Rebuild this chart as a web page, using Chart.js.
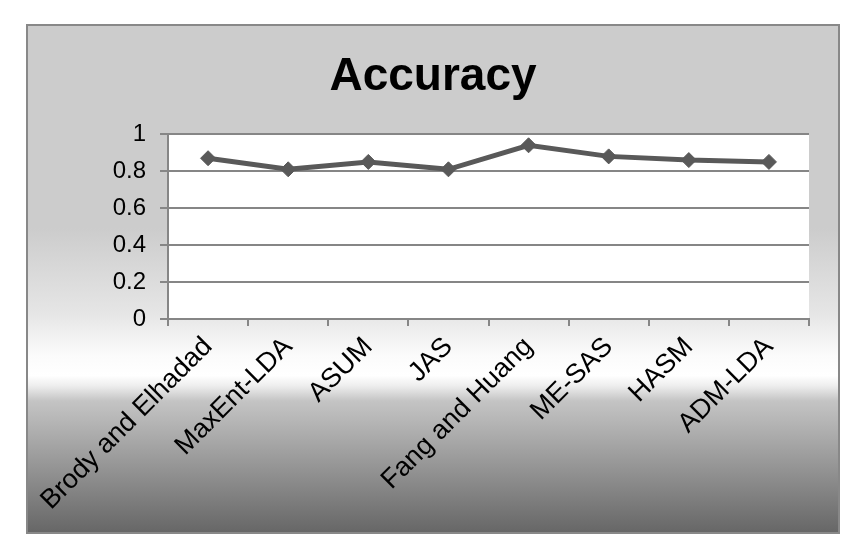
<!DOCTYPE html>
<html>
<head>
<meta charset="utf-8">
<script src="https://cdn.jsdelivr.net/npm/chart.js@4"></script>
<style>
  html, body { margin: 0; padding: 0; background: #ffffff; }
  #wrap { width: 860px; height: 555px; }
</style>
</head>
<body>
<div id="wrap"><canvas id="c" width="860" height="555"></canvas></div>
<script>
const categories = ["Brody and Elhadad", "MaxEnt-LDA", "ASUM", "JAS", "Fang and Huang", "ME-SAS", "HASM", "ADM-LDA"];
const accuracy = [0.87, 0.81, 0.85, 0.81, 0.94, 0.88, 0.86, 0.85];
const yTickLabels = ["0", "0.2", "0.4", "0.6", "0.8", "1"];
const chartTitle = "Accuracy";

const framePlugin = {
  id: 'frame',
  beforeDraw(chart) {
    const ctx = chart.ctx;
    const x0 = 27, y0 = 25, x1 = 839, y1 = 533;
    const g = ctx.createLinearGradient(0, y0, 0, y1);
    g.addColorStop(0, '#cccccc');
    g.addColorStop(0.40, '#cccccc');
    g.addColorStop(0.57, '#e6e6e6');
    g.addColorStop(0.65, '#fbfbfb');
    g.addColorStop(0.69, '#ffffff');
    g.addColorStop(0.71, '#eeeeee');
    g.addColorStop(0.74, '#c4c4c4');
    g.addColorStop(1, '#666666');
    ctx.save();
    ctx.fillStyle = g;
    ctx.fillRect(x0, y0, x1 - x0, y1 - y0);
    ctx.strokeStyle = '#888888';
    ctx.lineWidth = 2;
    ctx.strokeRect(x0, y0, x1 - x0, y1 - y0);
    const a = chart.chartArea;
    ctx.fillStyle = '#ffffff';
    ctx.fillRect(a.left, a.top, a.right - a.left, a.bottom - a.top);
    ctx.restore();
  }
};

const fam = "'Liberation Sans', Arial, sans-serif";

new Chart(document.getElementById('c'), {
  type: 'line',
  data: {
    labels: categories,
    datasets: [{
      label: chartTitle,
      data: accuracy,
      borderColor: '#595959',
      backgroundColor: '#595959',
      borderWidth: 5,
      tension: 0,
      pointStyle: 'rectRot',
      pointRadius: 7.5,
      pointHoverRadius: 7.5,
      pointBackgroundColor: '#595959',
      pointBorderColor: '#595959',
      pointBorderWidth: 1
    }]
  },
  options: {
    responsive: false,
    animation: false,
    devicePixelRatio: 1,
    events: [],
    layout: { padding: { left: 57, right: 51, top: 30, bottom: 22 } },
    plugins: {
      legend: { display: false },
      tooltip: { enabled: false },
      title: {
        display: true,
        text: chartTitle,
        color: '#000000',
        font: { family: fam, size: 46, weight: 'bold', lineHeight: 1.2 },
        padding: { top: 20, bottom: 29 }
      }
    },
    scales: {
      x: {
        type: 'category',
        offset: true,
        grid: { display: true, drawOnChartArea: false, offset: true, color: '#868686', tickLength: 7, lineWidth: 2 },
        border: { display: true, color: '#868686', width: 2 },
        ticks: { color: '#000000', font: { family: fam, size: 27 }, minRotation: 45, maxRotation: 45, autoSkip: false, padding: 5 },
        afterFit(s) { s.height = 555 - 319 - 22; s.paddingLeft = 0; s.paddingRight = 0; }
      },
      y: {
        min: 0,
        max: 1,
        grid: { color: '#868686', tickLength: 8, lineWidth: 2 },
        border: { display: true, color: '#868686', width: 2 },
        ticks: {
          stepSize: 0.2,
          color: '#000000',
          font: { family: fam, size: 24 },
          padding: 14,
          callback: (v, i) => yTickLabels[i]
        },
        afterFit(s) { s.width = 168 - 57; s.paddingTop = 0; s.paddingBottom = 0; }
      }
    }
  },
  plugins: [framePlugin]
});
</script>
</body>
</html>
